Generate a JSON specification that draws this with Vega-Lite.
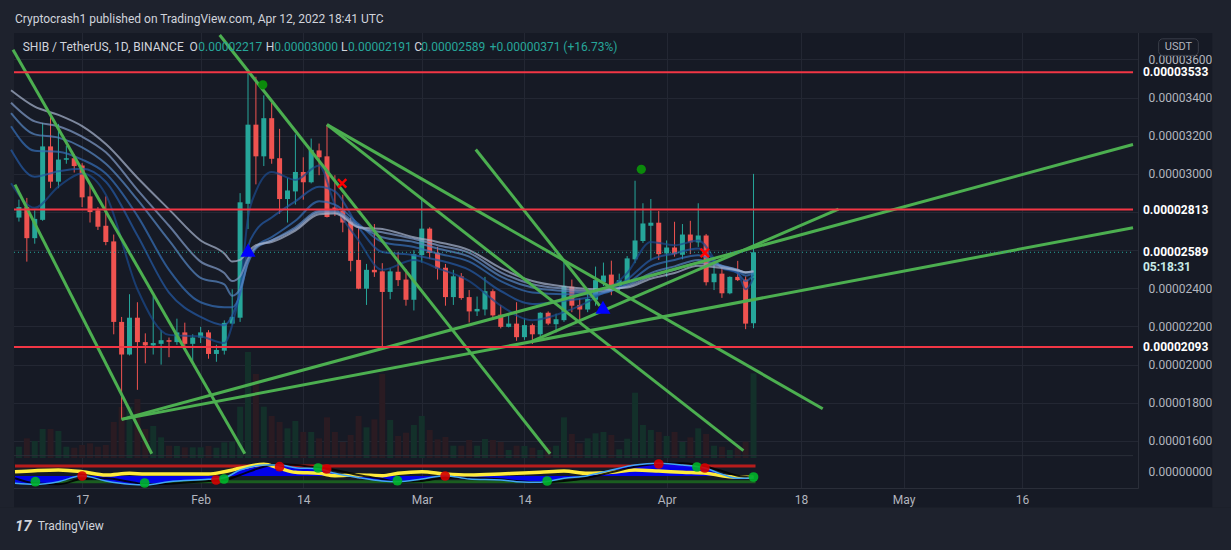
{
  "$schema": "https://vega.github.io/schema/vega-lite/v6.json",
  "width": 1129,
  "height": 460,
  "autosize": {"type": "none"},
  "padding": {"left": 9, "top": 28, "right": 93, "bottom": 62},
  "background": "#161a25",
  "config": {
    "view": {"fill": "#161a25", "stroke": null}
  },
  "datasets": {
    "candles": [
      {"d":"2022-01-09","o":0.00002771,"h":0.00002865,"l":0.0000275,"c":0.00002826,"v":11.3},
      {"d":"2022-01-10","o":0.00002826,"h":0.00002874,"l":0.0000254,"c":0.00002663,"v":19.7},
      {"d":"2022-01-11","o":0.00002663,"h":0.00002809,"l":0.00002634,"c":0.00002764,"v":17},
      {"d":"2022-01-12","o":0.00002759,"h":0.00003267,"l":0.00002754,"c":0.00003144,"v":29},
      {"d":"2022-01-13","o":0.00003144,"h":0.00003318,"l":0.00002925,"c":0.00002959,"v":29},
      {"d":"2022-01-14","o":0.00002959,"h":0.00003262,"l":0.00002925,"c":0.00003075,"v":27},
      {"d":"2022-01-15","o":0.00003074,"h":0.00003147,"l":0.00003053,"c":0.00003082,"v":11.3},
      {"d":"2022-01-16","o":0.00003082,"h":0.00003104,"l":0.00003007,"c":0.00003041,"v":10.3},
      {"d":"2022-01-17","o":0.00003044,"h":0.00003056,"l":0.00002826,"c":0.00002877,"v":13},
      {"d":"2022-01-18","o":0.00002882,"h":0.0000295,"l":0.00002745,"c":0.000028,"v":14.7},
      {"d":"2022-01-19","o":0.00002809,"h":0.00002826,"l":0.00002706,"c":0.00002723,"v":11.3},
      {"d":"2022-01-20","o":0.00002728,"h":0.00002882,"l":0.00002626,"c":0.00002643,"v":13},
      {"d":"2022-01-21","o":0.00002646,"h":0.00002682,"l":0.00002159,"c":0.00002224,"v":36},
      {"d":"2022-01-22","o":0.00002224,"h":0.0000225,"l":0.00001713,"c":0.00002053,"v":51},
      {"d":"2022-01-23","o":0.00002053,"h":0.00002369,"l":0.00002048,"c":0.00002246,"v":51.3},
      {"d":"2022-01-24","o":0.00002246,"h":0.00002327,"l":0.00001868,"c":0.00002118,"v":59},
      {"d":"2022-01-25","o":0.00002118,"h":0.00002164,"l":0.00002007,"c":0.00002101,"v":29},
      {"d":"2022-01-26","o":0.00002101,"h":0.00002361,"l":0.00002053,"c":0.00002113,"v":32},
      {"d":"2022-01-27","o":0.00002109,"h":0.00002181,"l":0.00002,"c":0.00002128,"v":20.7},
      {"d":"2022-01-28","o":0.00002128,"h":0.00002142,"l":0.00002039,"c":0.0000212,"v":12.3},
      {"d":"2022-01-29","o":0.00002118,"h":0.00002241,"l":0.00002104,"c":0.00002169,"v":12},
      {"d":"2022-01-30","o":0.00002169,"h":0.0000222,"l":0.00002087,"c":0.00002109,"v":10.7},
      {"d":"2022-01-31","o":0.00002109,"h":0.00002159,"l":0.0000201,"c":0.00002142,"v":10.7},
      {"d":"2022-02-01","o":0.00002142,"h":0.00002198,"l":0.00002113,"c":0.00002169,"v":10.7},
      {"d":"2022-02-02","o":0.00002169,"h":0.00002181,"l":0.00002031,"c":0.00002056,"v":12},
      {"d":"2022-02-03","o":0.00002056,"h":0.00002104,"l":0.00002015,"c":0.00002077,"v":10.3},
      {"d":"2022-02-04","o":0.00002073,"h":0.00002232,"l":0.00002053,"c":0.00002219,"v":15.7},
      {"d":"2022-02-05","o":0.00002215,"h":0.00002395,"l":0.0000221,"c":0.0000225,"v":16.3},
      {"d":"2022-02-06","o":0.00002246,"h":0.00002899,"l":0.00002224,"c":0.00002851,"v":51.3},
      {"d":"2022-02-07","o":0.00002843,"h":0.00003533,"l":0.00002711,"c":0.00003258,"v":106},
      {"d":"2022-02-08","o":0.00003258,"h":0.00003509,"l":0.00002945,"c":0.00003092,"v":84},
      {"d":"2022-02-09","o":0.00003092,"h":0.00003412,"l":0.00003041,"c":0.00003292,"v":51.3},
      {"d":"2022-02-10","o":0.00003292,"h":0.00003373,"l":0.00003053,"c":0.00003079,"v":42},
      {"d":"2022-02-11","o":0.00003082,"h":0.00003236,"l":0.00002791,"c":0.00002868,"v":36},
      {"d":"2022-02-12","o":0.00002868,"h":0.00002979,"l":0.00002745,"c":0.00002913,"v":29.7},
      {"d":"2022-02-13","o":0.00002908,"h":0.00003207,"l":0.00002839,"c":0.0000301,"v":37},
      {"d":"2022-02-14","o":0.0000301,"h":0.00003087,"l":0.00002865,"c":0.00002956,"v":26},
      {"d":"2022-02-15","o":0.00002956,"h":0.00003185,"l":0.0000295,"c":0.00003126,"v":26},
      {"d":"2022-02-16","o":0.00003123,"h":0.00003159,"l":0.00002993,"c":0.00003087,"v":19.7},
      {"d":"2022-02-17","o":0.00003092,"h":0.00003258,"l":0.00002771,"c":0.00002774,"v":40.7},
      {"d":"2022-02-18","o":0.00002824,"h":0.00002993,"l":0.00002779,"c":0.00002814,"v":26},
      {"d":"2022-02-19","o":0.00002808,"h":0.00002891,"l":0.00002694,"c":0.00002745,"v":16},
      {"d":"2022-02-20","o":0.00002749,"h":0.00002771,"l":0.00002489,"c":0.00002544,"v":23},
      {"d":"2022-02-21","o":0.00002549,"h":0.00002737,"l":0.00002395,"c":0.00002398,"v":42},
      {"d":"2022-02-22","o":0.00002398,"h":0.00002528,"l":0.00002313,"c":0.00002497,"v":30.7},
      {"d":"2022-02-23","o":0.00002497,"h":0.00002737,"l":0.0000246,"c":0.00002484,"v":38.7},
      {"d":"2022-02-24","o":0.00002489,"h":0.00002532,"l":0.0000208,"c":0.00002381,"v":84},
      {"d":"2022-02-25","o":0.00002381,"h":0.00002506,"l":0.00002343,"c":0.00002489,"v":38},
      {"d":"2022-02-26","o":0.00002487,"h":0.00002591,"l":0.00002412,"c":0.00002443,"v":22},
      {"d":"2022-02-27","o":0.00002446,"h":0.00002501,"l":0.00002309,"c":0.0000234,"v":25.3},
      {"d":"2022-02-28","o":0.0000234,"h":0.000026,"l":0.00002284,"c":0.00002579,"v":33},
      {"d":"2022-03-01","o":0.00002574,"h":0.00002865,"l":0.00002535,"c":0.00002713,"v":42},
      {"d":"2022-03-02","o":0.00002713,"h":0.0000272,"l":0.00002554,"c":0.00002586,"v":28},
      {"d":"2022-03-03","o":0.00002586,"h":0.00002617,"l":0.00002446,"c":0.00002504,"v":18.7},
      {"d":"2022-03-04","o":0.00002508,"h":0.00002528,"l":0.00002309,"c":0.00002354,"v":21},
      {"d":"2022-03-05","o":0.00002354,"h":0.00002497,"l":0.00002313,"c":0.00002463,"v":12.3},
      {"d":"2022-03-06","o":0.00002463,"h":0.0000248,"l":0.0000234,"c":0.00002349,"v":12.3},
      {"d":"2022-03-07","o":0.00002354,"h":0.00002391,"l":0.00002221,"c":0.00002279,"v":18},
      {"d":"2022-03-08","o":0.00002279,"h":0.00002357,"l":0.00002255,"c":0.00002292,"v":12.3},
      {"d":"2022-03-09","o":0.00002289,"h":0.0000246,"l":0.00002258,"c":0.00002385,"v":19},
      {"d":"2022-03-10","o":0.00002385,"h":0.00002395,"l":0.00002238,"c":0.00002258,"v":18},
      {"d":"2022-03-11","o":0.00002262,"h":0.00002313,"l":0.0000219,"c":0.00002198,"v":16},
      {"d":"2022-03-12","o":0.00002198,"h":0.00002267,"l":0.00002195,"c":0.00002215,"v":8},
      {"d":"2022-03-13","o":0.00002215,"h":0.00002327,"l":0.00002125,"c":0.00002144,"v":12.3},
      {"d":"2022-03-14","o":0.00002144,"h":0.00002244,"l":0.0000213,"c":0.00002207,"v":12},
      {"d":"2022-03-15","o":0.00002207,"h":0.00002215,"l":0.00002108,"c":0.00002159,"v":10.3},
      {"d":"2022-03-16","o":0.00002159,"h":0.00002275,"l":0.00002147,"c":0.00002272,"v":8},
      {"d":"2022-03-17","o":0.00002272,"h":0.00002279,"l":0.00002207,"c":0.00002215,"v":10.7},
      {"d":"2022-03-18","o":0.00002212,"h":0.00002267,"l":0.00002169,"c":0.00002238,"v":12.3},
      {"d":"2022-03-19","o":0.00002233,"h":0.00002552,"l":0.00002224,"c":0.00002412,"v":40.7},
      {"d":"2022-03-20","o":0.00002409,"h":0.00002446,"l":0.00002275,"c":0.00002309,"v":24},
      {"d":"2022-03-21","o":0.00002313,"h":0.00002347,"l":0.00002233,"c":0.00002289,"v":14.7},
      {"d":"2022-03-22","o":0.00002289,"h":0.00002395,"l":0.00002275,"c":0.00002344,"v":19.7},
      {"d":"2022-03-23","o":0.0000234,"h":0.00002514,"l":0.00002309,"c":0.00002443,"v":24.7},
      {"d":"2022-03-24","o":0.00002432,"h":0.00002535,"l":0.00002412,"c":0.00002467,"v":26},
      {"d":"2022-03-25","o":0.00002472,"h":0.00002545,"l":0.00002364,"c":0.00002412,"v":23},
      {"d":"2022-03-26","o":0.00002412,"h":0.00002477,"l":0.00002386,"c":0.00002443,"v":8.7},
      {"d":"2022-03-27","o":0.00002432,"h":0.00002569,"l":0.00002429,"c":0.00002557,"v":19.3},
      {"d":"2022-03-28","o":0.00002552,"h":0.00002964,"l":0.00002532,"c":0.00002651,"v":65.3},
      {"d":"2022-03-29","o":0.00002648,"h":0.00002846,"l":0.00002638,"c":0.0000274,"v":33},
      {"d":"2022-03-30","o":0.00002728,"h":0.00002868,"l":0.00002549,"c":0.00002744,"v":28},
      {"d":"2022-03-31","o":0.00002744,"h":0.00002805,"l":0.00002549,"c":0.00002579,"v":26},
      {"d":"2022-04-01","o":0.00002583,"h":0.00002651,"l":0.0000246,"c":0.00002614,"v":22},
      {"d":"2022-04-02","o":0.00002614,"h":0.00002749,"l":0.00002566,"c":0.00002579,"v":26},
      {"d":"2022-04-03","o":0.00002576,"h":0.00002737,"l":0.00002552,"c":0.00002682,"v":16},
      {"d":"2022-04-04","o":0.00002682,"h":0.00002754,"l":0.00002579,"c":0.00002641,"v":20.7},
      {"d":"2022-04-05","o":0.00002641,"h":0.00002846,"l":0.00002617,"c":0.00002677,"v":29.7},
      {"d":"2022-04-06","o":0.00002677,"h":0.00002685,"l":0.00002415,"c":0.00002432,"v":24},
      {"d":"2022-04-07","o":0.00002432,"h":0.00002523,"l":0.00002391,"c":0.00002477,"v":12.3},
      {"d":"2022-04-08","o":0.00002477,"h":0.00002514,"l":0.0000235,"c":0.00002374,"v":11.3},
      {"d":"2022-04-09","o":0.00002374,"h":0.00002463,"l":0.00002369,"c":0.0000246,"v":8},
      {"d":"2022-04-10","o":0.0000246,"h":0.00002544,"l":0.00002438,"c":0.00002443,"v":10.7},
      {"d":"2022-04-11","o":0.00002446,"h":0.00002463,"l":0.00002186,"c":0.00002215,"v":16.3},
      {"d":"2022-04-12","o":0.00002217,"h":0.00003,"l":0.00002191,"c":0.00002589,"v":84.7}
    ],
    "ema": [
      {"d":"2022-01-08","e1":0.00002951,"e2":0.00003127,"e3":0.0000325,"e4":0.00003318,"e5":0.00003373,"e6":0.00003438},
      {"d":"2022-01-11","e1":0.00002822,"e2":0.00002985,"e3":0.00003121,"e4":0.00003207,"e5":0.00003275,"e6":0.00003352},
      {"d":"2022-01-14","e1":0.00002933,"e2":0.00003014,"e3":0.00003116,"e4":0.0000319,"e5":0.0000325,"e6":0.00003309},
      {"d":"2022-01-17","e1":0.00003002,"e2":0.00003027,"e3":0.00003075,"e4":0.00003139,"e5":0.00003195,"e6":0.0000325},
      {"d":"2022-01-20","e1":0.00002891,"e2":0.00002959,"e3":0.00003002,"e4":0.00003053,"e5":0.00003113,"e6":0.00003156},
      {"d":"2022-01-24","e1":0.00002395,"e2":0.00002677,"e3":0.0000278,"e4":0.00002865,"e5":0.00002916,"e6":0.0000298},
      {"d":"2022-01-28","e1":0.00002156,"e2":0.00002378,"e3":0.00002497,"e4":0.00002651,"e5":0.00002728,"e6":0.00002814},
      {"d":"2022-02-01","e1":0.00002147,"e2":0.0000225,"e3":0.00002327,"e4":0.00002455,"e5":0.0000254,"e6":0.00002651},
      {"d":"2022-02-04","e1":0.00002113,"e2":0.00002207,"e3":0.00002301,"e4":0.00002421,"e5":0.0000248,"e6":0.00002583},
      {"d":"2022-02-05","e1":0.00002207,"e2":0.00002258,"e3":0.00002301,"e4":0.00002361,"e5":0.00002438,"e6":0.0000254},
      {"d":"2022-02-06","e1":0.00002395,"e2":0.00002378,"e3":0.00002369,"e4":0.00002395,"e5":0.00002463,"e6":0.00002549},
      {"d":"2022-02-07","e1":0.00002771,"e2":0.00002617,"e3":0.00002549,"e4":0.00002532,"e5":0.00002557,"e6":0.00002591},
      {"d":"2022-02-08","e1":0.00002908,"e2":0.00002703,"e3":0.00002617,"e4":0.00002609,"e5":0.00002617,"e6":0.00002626},
      {"d":"2022-02-10","e1":0.0000301,"e2":0.00002771,"e3":0.00002668,"e4":0.00002651,"e5":0.00002651,"e6":0.00002643},
      {"d":"2022-02-13","e1":0.00002968,"e2":0.00002856,"e3":0.00002754,"e4":0.0000272,"e5":0.00002711,"e6":0.00002703},
      {"d":"2022-02-16","e1":0.00003044,"e2":0.00002933,"e3":0.00002856,"e4":0.00002805,"e5":0.00002797,"e6":0.00002788},
      {"d":"2022-02-18","e1":0.00002839,"e2":0.00002908,"e3":0.00002839,"e4":0.00002805,"e5":0.00002797,"e6":0.00002792},
      {"d":"2022-02-21","e1":0.00002651,"e2":0.0000272,"e3":0.00002737,"e4":0.00002728,"e5":0.0000272,"e6":0.0000272},
      {"d":"2022-02-24","e1":0.00002497,"e2":0.00002591,"e3":0.00002643,"e4":0.00002668,"e5":0.00002694,"e6":0.00002711},
      {"d":"2022-02-28","e1":0.00002549,"e2":0.00002574,"e3":0.00002617,"e4":0.00002643,"e5":0.0000266,"e6":0.00002668},
      {"d":"2022-03-03","e1":0.00002506,"e2":0.00002549,"e3":0.00002583,"e4":0.00002609,"e5":0.00002626,"e6":0.00002643},
      {"d":"2022-03-07","e1":0.00002438,"e2":0.00002497,"e3":0.0000254,"e4":0.00002566,"e5":0.00002586,"e6":0.000026},
      {"d":"2022-03-11","e1":0.00002309,"e2":0.00002386,"e3":0.00002438,"e4":0.00002463,"e5":0.00002484,"e6":0.00002506},
      {"d":"2022-03-15","e1":0.00002233,"e2":0.00002318,"e3":0.00002378,"e4":0.00002404,"e5":0.00002421,"e6":0.00002438},
      {"d":"2022-03-19","e1":0.00002275,"e2":0.00002335,"e3":0.00002369,"e4":0.00002386,"e5":0.00002398,"e6":0.00002409},
      {"d":"2022-03-23","e1":0.00002352,"e2":0.00002361,"e3":0.00002369,"e4":0.00002378,"e5":0.00002386,"e6":0.00002395},
      {"d":"2022-03-27","e1":0.0000248,"e2":0.00002446,"e3":0.00002426,"e4":0.00002415,"e5":0.00002409,"e6":0.00002404},
      {"d":"2022-03-30","e1":0.00002643,"e2":0.00002549,"e3":0.00002515,"e4":0.0000248,"e5":0.00002463,"e6":0.0000245},
      {"d":"2022-04-02","e1":0.00002626,"e2":0.00002583,"e3":0.00002549,"e4":0.00002515,"e5":0.00002497,"e6":0.0000248},
      {"d":"2022-04-05","e1":0.00002651,"e2":0.00002609,"e3":0.00002574,"e4":0.00002549,"e5":0.00002532,"e6":0.00002518},
      {"d":"2022-04-08","e1":0.00002506,"e2":0.00002511,"e3":0.00002518,"e4":0.00002518,"e5":0.00002515,"e6":0.00002506},
      {"d":"2022-04-10","e1":0.0000248,"e2":0.0000248,"e3":0.00002489,"e4":0.00002497,"e5":0.00002497,"e6":0.00002494},
      {"d":"2022-04-11","e1":0.00002395,"e2":0.00002438,"e3":0.00002467,"e4":0.0000248,"e5":0.00002484,"e6":0.00002484},
      {"d":"2022-04-12","e1":0.00002455,"e2":0.00002472,"e3":0.0000248,"e4":0.00002487,"e5":0.00002489,"e6":0.00002489}
    ],
    "trendlines": [
      {"d":"2022-01-08T06:00:00Z","p":0.00003651,"d2":"2022-02-06T14:24:00Z","p2":0.00001533},
      {"d":"2022-01-08T12:00:00Z","p":0.00002944,"d2":"2022-01-25T19:30:00Z","p2":0.00001533},
      {"d":"2022-02-03T10:00:00Z","p":0.00003728,"d2":"2022-03-17T06:00:00Z","p2":0.00001533},
      {"d":"2022-02-17T00:00:00Z","p":0.00003258,"d2":"2022-04-10T17:15:00Z","p2":0.00001549},
      {"d":"2022-02-17T00:00:00Z","p":0.00003258,"d2":"2022-04-20T18:15:00Z","p2":0.00001769},
      {"d":"2022-03-07T20:00:00Z","p":0.00003128,"d2":"2022-03-23T12:45:00Z","p2":0.00002308},
      {"d":"2022-03-15T00:00:00Z","p":0.00002123,"d2":"2022-04-22T18:15:00Z","p2":0.00002815},
      {"d":"2022-01-22T00:00:00Z","p":0.00001713,"d2":"2022-05-30T01:00:00Z","p2":0.00003154},
      {"d":"2022-01-22T00:00:00Z","p":0.00001713,"d2":"2022-05-30T01:00:00Z","p2":0.00002718}
    ],
    "signals": [
      {"d":"2022-02-08T21:00:00Z","p":0.00003467,"k":"dot"},
      {"d":"2022-03-28T19:00:00Z","p":0.00003024,"k":"dot"},
      {"d":"2022-02-07","p":0.000026,"k":"tri"},
      {"d":"2022-03-23T22:30:00Z","p":0.00002301,"k":"tri"},
      {"d":"2022-02-18T22:00:00Z","p":0.0000295,"k":"x"},
      {"d":"2022-04-05T20:00:00Z","p":0.00002586,"k":"x"}
    ],
    "osc": [
      {"d":"2022-01-08T12:00:00Z","w1":-7.3,"w2":-2.3,"yl":4.3},
      {"d":"2022-01-11","w1":-8.3,"w2":-7.3,"yl":5.3},
      {"d":"2022-01-14","w1":-5.7,"w2":-8.3,"yl":6},
      {"d":"2022-01-17","w1":0.3,"w2":-3,"yl":4.3},
      {"d":"2022-01-20","w1":-5,"w2":-2.3,"yl":1},
      {"d":"2022-01-23","w1":-8.3,"w2":-5.7,"yl":2.7},
      {"d":"2022-01-25","w1":-9,"w2":-8.3,"yl":2},
      {"d":"2022-01-28","w1":-5.7,"w2":-7.7,"yl":2},
      {"d":"2022-02-02","w1":-3.3,"w2":-5,"yl":2},
      {"d":"2022-02-04","w1":-1.7,"w2":-4,"yl":4.3},
      {"d":"2022-02-06","w1":6,"w2":1,"yl":7.7},
      {"d":"2022-02-09","w1":11,"w2":9.3,"yl":11.7},
      {"d":"2022-02-11","w1":11,"w2":11.7,"yl":7.7},
      {"d":"2022-02-13","w1":8.3,"w2":11,"yl":3.7},
      {"d":"2022-02-16","w1":7,"w2":8.3,"yl":2.7},
      {"d":"2022-02-18","w1":2.7,"w2":6,"yl":0.3},
      {"d":"2022-02-21","w1":-1.7,"w2":1,"yl":1},
      {"d":"2022-02-24","w1":-5,"w2":-3,"yl":0.3},
      {"d":"2022-02-26","w1":-5.7,"w2":-5.7,"yl":2.7},
      {"d":"2022-03-01","w1":-3,"w2":-5,"yl":4.3},
      {"d":"2022-03-04","w1":0.3,"w2":-1.7,"yl":2},
      {"d":"2022-03-07","w1":-3,"w2":-1.7,"yl":1},
      {"d":"2022-03-11","w1":-4,"w2":-3.3,"yl":2},
      {"d":"2022-03-13","w1":-5.7,"w2":-5,"yl":2.7},
      {"d":"2022-03-16","w1":-6.3,"w2":-6.3,"yl":3.7},
      {"d":"2022-03-19","w1":-2.3,"w2":-5,"yl":5},
      {"d":"2022-03-22","w1":0.3,"w2":-1.7,"yl":2.7},
      {"d":"2022-03-25","w1":6,"w2":3.7,"yl":3.7},
      {"d":"2022-03-28","w1":11,"w2":9.3,"yl":6},
      {"d":"2022-03-31","w1":12.7,"w2":12.3,"yl":5},
      {"d":"2022-04-03","w1":11,"w2":12.7,"yl":3.7},
      {"d":"2022-04-06","w1":7.7,"w2":9.3,"yl":2.7},
      {"d":"2022-04-08","w1":1.7,"w2":5,"yl":0.3},
      {"d":"2022-04-10","w1":-2.3,"w2":0.3,"yl":-1.3},
      {"d":"2022-04-12","w1":-1.7,"w2":-1.7,"yl":-1.3}
    ],
    "oscdots": [
      {"d":"2022-01-11T02:00:00Z","v":-5.7,"k":"up"},
      {"d":"2022-01-17","v":0,"k":"down"},
      {"d":"2022-01-24T22:00:00Z","v":-7,"k":"up"},
      {"d":"2022-02-02T23:00:00Z","v":-4,"k":"down"},
      {"d":"2022-02-03T23:00:00Z","v":-3,"k":"up"},
      {"d":"2022-02-11","v":9.3,"k":"down"},
      {"d":"2022-02-15T21:00:00Z","v":8,"k":"up"},
      {"d":"2022-02-16T23:00:00Z","v":7,"k":"down"},
      {"d":"2022-02-25T22:00:00Z","v":-4.7,"k":"up"},
      {"d":"2022-03-03T23:00:00Z","v":0,"k":"down"},
      {"d":"2022-03-16T21:00:00Z","v":-5,"k":"up"},
      {"d":"2022-03-31","v":12,"k":"down"},
      {"d":"2022-04-04T20:00:00Z","v":9,"k":"up"},
      {"d":"2022-04-05T20:00:00Z","v":8,"k":"down"},
      {"d":"2022-04-12","v":-1,"k":"up"}
    ],
    "tags": [
      {"d":"2022-05-30T03:50:00Z","d2":"2022-06-09T01:40:00Z","p":0.00003533,"t":"0.00003533"},
      {"d":"2022-05-30T03:50:00Z","d2":"2022-06-09T01:40:00Z","p":0.00002813,"t":"0.00002813"},
      {"d":"2022-05-30T03:50:00Z","d2":"2022-06-09T01:40:00Z","p":0.00002093,"t":"0.00002093"}
    ],
    "lasttag": [
      {"d":"2022-05-30T03:50:00Z","d2":"2022-06-09T01:40:00Z","p":0.00002589,"t":"0.00002589","t2":"05:18:31"}
    ]
  },
  "encoding": {
    "x": {
      "field": "d",
      "type": "temporal",
      "scale": {
        "type": "utc",
        "nice": false,
        "domain": [
          {"year": 2022, "month": 1, "date": 8, "hours": 9, "utc": true},
          {"year": 2022, "month": 5, "date": 30, "hours": 1, "utc": true}
        ]
      },
      "axis": {
        "title": null,
        "values": [
          {"year": 2022, "month": 1, "date": 17, "utc": true},
          {"year": 2022, "month": 2, "date": 1, "utc": true},
          {"year": 2022, "month": 2, "date": 14, "utc": true},
          {"year": 2022, "month": 3, "date": 1, "utc": true},
          {"year": 2022, "month": 3, "date": 14, "utc": true},
          {"year": 2022, "month": 4, "date": 1, "utc": true},
          {"year": 2022, "month": 4, "date": 18, "utc": true},
          {"year": 2022, "month": 5, "date": 1, "utc": true},
          {"year": 2022, "month": 5, "date": 16, "utc": true}
        ],
        "labelExpr": "utcdate(datum.value) == 1 ? utcFormat(datum.value, '%b') : '' + utcdate(datum.value)",
        "labelFont": "Roboto",
        "labelFontSize": 12,
        "labelColor": "#b2b5be",
        "labelPadding": 6,
        "labelOverlap": false,
        "ticks": false,
        "domain": true,
        "domainColor": "#2a2e39",
        "grid": true,
        "gridColor": "#232733"
      }
    }
  },
  "resolve": {"scale": {"y": "independent"}},
  "layer": [
    {
      "data": {"name": "candles"},
      "mark": {"type": "bar", "size": 6},
      "encoding": {
        "y": {"field": "v", "type": "quantitative", "scale": {"domain": [-30, 430], "nice": false, "zero": false}, "axis": null},
        "y2": {"datum": 0},
        "color": {"condition": {"test": "datum.c >= datum.o", "value": "#13302a"}, "value": "#2a1b22"}
      }
    },
    {
      "layer": [
        {
          "data": {"values": [
            {"d":"2021-12-01","d2":"2022-07-01","p":0.000037385,"p2":0.00004},
            {"d":"2021-12-01","d2":"2022-07-01","p":0.000005,"p2":0.00001251},
            {"d":"2021-12-01","d2":"2022-01-08T09:00:00Z","p":0.00001251,"p2":0.000037385},
            {"d":"2022-06-09T01:40:00Z","d2":"2022-07-01","p":0.00001251,"p2":0.000037385}
          ]},
          "mark": {"type": "rect", "color": "#1e222d", "clip": false},
          "encoding": {
            "x2": {"field": "d2"},
            "y": {
              "field": "p",
              "type": "quantitative",
              "scale": {"domain": [0.000013795, 0.000037385], "nice": false, "zero": false},
              "axis": {
                "orient": "right",
                "title": null,
                "values": [0.000016, 0.000018, 0.00002, 0.000022, 0.000024, 0.000026, 0.000028, 0.00003, 0.000032, 0.000034, 0.000036, 0.00001441],
                "labelExpr": "datum.value < 0.000015 ? '0.00000000' : format(datum.value, '.8f')",
                "labelFont": "Roboto",
                "labelFontSize": 12,
                "labelColor": "#b2b5be",
                "labelOpacity": {"condition": {"test": "datum.value > 0.0000255 && datum.value < 0.0000285", "value": 0}, "value": 1},
                "labelPadding": 10,
                "labelOverlap": false,
                "labelFlush": false,
                "ticks": false,
                "domain": true,
                "domainColor": "#2a2e39",
                "grid": true,
                "gridColor": "#232733",
                "gridOpacity": {"condition": {"test": "datum.value < 0.000015", "value": 0}, "value": 1}
              }
            },
            "y2": {"field": "p2"}
          }
        },
        {
          "data": {"values": [{"d":"2022-01-08T09:00:00Z","d2":"2022-05-30T01:00:00Z","p":0.00001523}]},
          "mark": {"type": "rule", "color": "#2a2e39", "strokeWidth": 1},
          "encoding": {
            "x2": {"field": "d2"},
            "y": {"field": "p", "type": "quantitative", "scale": {"domain": [0.000013795, 0.000037385], "nice": false, "zero": false}}
          }
        },
        {
          "data": {"name": "candles"},
          "mark": {"type": "rule", "strokeWidth": 1},
          "encoding": {
            "y": {"field": "l", "type": "quantitative", "scale": {"domain": [0.000013795, 0.000037385], "nice": false, "zero": false}},
            "y2": {"field": "h"},
            "color": {"condition": {"test": "datum.c >= datum.o", "value": "#26a69a"}, "value": "#ef5350"}
          }
        },
        {
          "data": {"name": "candles"},
          "mark": {"type": "bar", "size": 5},
          "encoding": {
            "y": {"field": "o", "type": "quantitative", "scale": {"domain": [0.000013795, 0.000037385], "nice": false, "zero": false}},
            "y2": {"field": "c"},
            "color": {"condition": {"test": "datum.c >= datum.o", "value": "#26a69a"}, "value": "#ef5350"}
          }
        },
        {
          "data": {"name": "ema"},
          "transform": [{"fold": ["e1", "e2", "e3", "e4", "e5", "e6"], "as": ["k", "val"]}],
          "mark": {"type": "line", "strokeWidth": 2, "opacity": 0.72, "interpolate": "monotone", "clip": true},
          "encoding": {
            "y": {"field": "val", "type": "quantitative", "scale": {"domain": [0.000013795, 0.000037385], "nice": false, "zero": false}},
            "color": {
              "field": "k",
              "type": "nominal",
              "scale": {"domain": ["e1", "e2", "e3", "e4", "e5", "e6"], "range": ["#1b4a8c", "#2459a3", "#346db5", "#5685c0", "#7f9ac6", "#a6b3cc"]},
              "legend": null
            }
          }
        },
        {
          "data": {"name": "trendlines"},
          "mark": {"type": "rule", "color": "#4caf50", "strokeWidth": 3, "clip": true},
          "encoding": {
            "x2": {"field": "d2"},
            "y": {"field": "p", "type": "quantitative", "scale": {"domain": [0.000013795, 0.000037385], "nice": false, "zero": false}},
            "y2": {"field": "p2"}
          }
        },
        {
          "data": {"values": [
            {"d":"2022-01-08T09:00:00Z","d2":"2022-05-30T01:00:00Z","p":0.00003533},
            {"d":"2022-01-08T09:00:00Z","d2":"2022-05-30T01:00:00Z","p":0.00002813},
            {"d":"2022-01-08T09:00:00Z","d2":"2022-05-30T01:00:00Z","p":0.00002093}
          ]},
          "mark": {"type": "rule", "color": "#f23645", "strokeWidth": 2},
          "encoding": {
            "x2": {"field": "d2"},
            "y": {"field": "p", "type": "quantitative", "scale": {"domain": [0.000013795, 0.000037385], "nice": false, "zero": false}}
          }
        },
        {
          "data": {"values": [{"d":"2022-01-08T09:00:00Z","d2":"2022-05-30T01:00:00Z","p":0.00002589}]},
          "mark": {"type": "rule", "color": "#26a69a", "strokeWidth": 1, "strokeDash": [1, 3]},
          "encoding": {
            "x2": {"field": "d2"},
            "y": {"field": "p", "type": "quantitative", "scale": {"domain": [0.000013795, 0.000037385], "nice": false, "zero": false}}
          }
        },
        {
          "data": {"name": "signals"},
          "transform": [{"filter": "datum.k == 'dot'"}],
          "mark": {"type": "circle", "size": 85, "color": "#0b8a0b", "opacity": 1},
          "encoding": {
            "y": {"field": "p", "type": "quantitative", "scale": {"domain": [0.000013795, 0.000037385], "nice": false, "zero": false}}
          }
        },
        {
          "data": {"name": "signals"},
          "transform": [{"filter": "datum.k == 'tri'"}],
          "mark": {"type": "point", "shape": "triangle-up", "size": 230, "filled": true, "color": "#0000ff", "opacity": 1},
          "encoding": {
            "y": {"field": "p", "type": "quantitative", "scale": {"domain": [0.000013795, 0.000037385], "nice": false, "zero": false}}
          }
        },
        {
          "data": {"name": "signals"},
          "transform": [{"filter": "datum.k == 'x'"}],
          "mark": {"type": "point", "shape": "M-1,-1L1,1M-1,1L1,-1", "size": 70, "filled": false, "color": "#ff0000", "strokeWidth": 2.5, "opacity": 1},
          "encoding": {
            "y": {"field": "p", "type": "quantitative", "scale": {"domain": [0.000013795, 0.000037385], "nice": false, "zero": false}}
          }
        },
        {
          "data": {"name": "tags"},
          "mark": {"type": "bar", "size": 17, "color": "#f23645", "clip": false, "cornerRadius": 1},
          "encoding": {
            "x2": {"field": "d2"},
            "y": {"field": "p", "type": "quantitative", "scale": {"domain": [0.000013795, 0.000037385], "nice": false, "zero": false}}
          }
        },
        {
          "data": {"name": "lasttag"},
          "mark": {"type": "bar", "size": 31, "yOffset": 7.5, "color": "#26a69a", "clip": false, "cornerRadius": 1},
          "encoding": {
            "x2": {"field": "d2"},
            "y": {"field": "p", "type": "quantitative", "scale": {"domain": [0.000013795, 0.000037385], "nice": false, "zero": false}}
          }
        },
        {
          "data": {"name": "tags"},
          "mark": {"type": "text", "align": "left", "dx": 9, "font": "Roboto", "fontSize": 12, "fontWeight": "bold", "color": "#ffffff", "clip": false},
          "encoding": {
            "y": {"field": "p", "type": "quantitative", "scale": {"domain": [0.000013795, 0.000037385], "nice": false, "zero": false}},
            "text": {"field": "t"}
          }
        },
        {
          "data": {"name": "lasttag"},
          "mark": {"type": "text", "align": "left", "dx": 9, "font": "Roboto", "fontSize": 12, "fontWeight": "bold", "color": "#ffffff", "clip": false},
          "encoding": {
            "y": {"field": "p", "type": "quantitative", "scale": {"domain": [0.000013795, 0.000037385], "nice": false, "zero": false}},
            "text": {"field": "t"}
          }
        },
        {
          "data": {"name": "lasttag"},
          "mark": {"type": "text", "align": "left", "dx": 9, "dy": 15, "font": "Roboto", "fontSize": 12, "fontWeight": "bold", "color": "#c8ebe7", "clip": false},
          "encoding": {
            "y": {"field": "p", "type": "quantitative", "scale": {"domain": [0.000013795, 0.000037385], "nice": false, "zero": false}},
            "text": {"field": "t2"}
          }
        },
        {
          "data": {"values": [{"d":"2022-06-02T07:00:00Z","d2":"2022-06-07T07:30:00Z","p":0.00003708,"p2":0.00003621}]},
          "mark": {"type": "rect", "fill": "#161a25", "stroke": "#3a3e49", "strokeWidth": 1, "cornerRadius": 4, "clip": false},
          "encoding": {
            "x2": {"field": "d2"},
            "y": {"field": "p", "type": "quantitative", "scale": {"domain": [0.000013795, 0.000037385], "nice": false, "zero": false}},
            "y2": {"field": "p2"}
          }
        },
        {
          "data": {"values": [{"d":"2022-06-04T19:00:00Z","p":0.00003664,"t":"USDT"}]},
          "mark": {"type": "text", "align": "center", "font": "Roboto", "fontSize": 11, "color": "#b2b5be", "clip": false},
          "encoding": {
            "y": {"field": "p", "type": "quantitative", "scale": {"domain": [0.000013795, 0.000037385], "nice": false, "zero": false}},
            "text": {"field": "t"}
          }
        },
        {
          "data": {"values": [
            {"d":"2022-01-08T12:00:00Z","p":0.0000381,"t":"Cryptocrash1 published on TradingView.com, Apr 12, 2022 18:41 UTC","k":"head"},
            {"d":"2022-01-09T11:30:00Z","p":0.00003667,"t":"SHIB / TetherUS, 1D, BINANCE","k":"key"},
            {"d":"2022-01-30T14:00:00Z","p":0.00003667,"t":"O","k":"key"},
            {"d":"2022-01-31T17:00:00Z","p":0.00003667,"t":"0.00002217","k":"val"},
            {"d":"2022-02-09T05:45:00Z","p":0.00003667,"t":"H","k":"key"},
            {"d":"2022-02-10T07:30:00Z","p":0.00003667,"t":"0.00003000","k":"val"},
            {"d":"2022-02-18T18:45:00Z","p":0.00003667,"t":"L","k":"key"},
            {"d":"2022-02-19T15:50:00Z","p":0.00003667,"t":"0.00002191","k":"val"},
            {"d":"2022-02-28T01:30:00Z","p":0.00003667,"t":"C","k":"key"},
            {"d":"2022-02-28T22:30:00Z","p":0.00003667,"t":"0.00002589","k":"val"},
            {"d":"2022-03-09T14:25:00Z","p":0.00003667,"t":"+0.00000371 (+16.73%)","k":"val"},
            {"d":"2022-01-11T09:00:00Z","p":0.00001154,"t":"TradingView","k":"head"}
          ]},
          "mark": {"type": "text", "align": "left", "font": "Roboto", "fontSize": 12, "clip": false},
          "encoding": {
            "y": {"field": "p", "type": "quantitative", "scale": {"domain": [0.000013795, 0.000037385], "nice": false, "zero": false}},
            "text": {"field": "t"},
            "color": {"condition": {"test": "datum.k == 'val'", "value": "#26a69a"}, "value": "#d1d4dc"}
          }
        },
        {
          "data": {"values": [{"d":"2022-01-08T12:00:00Z","p":0.00001154,"t":"17"}]},
          "mark": {"type": "text", "align": "left", "font": "Roboto", "fontSize": 15, "fontWeight": "bold", "fontStyle": "italic", "color": "#d1d4dc", "clip": false},
          "encoding": {
            "y": {"field": "p", "type": "quantitative", "scale": {"domain": [0.000013795, 0.000037385], "nice": false, "zero": false}},
            "text": {"field": "t"}
          }
        }
      ]
    },
    {
      "layer": [
        {
          "data": {"values": [
            {"d":"2022-01-08T12:00:00Z","d2":"2022-04-12T06:00:00Z","v":10},
            {"d":"2022-01-08T12:00:00Z","d2":"2022-04-12T06:00:00Z","v":-5.7}
          ]},
          "mark": {"type": "rule", "strokeWidth": 3},
          "encoding": {
            "x2": {"field": "d2"},
            "y": {"field": "v", "type": "quantitative", "scale": {"domain": [-12, 448], "nice": false, "zero": false}, "axis": null},
            "color": {"condition": {"test": "datum.v > 0", "value": "#b71c1c"}, "value": "#1b5e20"}
          }
        },
        {
          "data": {"name": "osc"},
          "mark": {"type": "area", "color": "#0000ff", "opacity": 0.9, "interpolate": "monotone"},
          "encoding": {
            "y": {"field": "w1", "type": "quantitative", "scale": {"domain": [-12, 448], "nice": false, "zero": false}, "axis": null},
            "y2": {"datum": 0}
          }
        },
        {
          "data": {"name": "osc"},
          "mark": {"type": "line", "color": "#ffeb3b", "strokeWidth": 3.5, "interpolate": "monotone"},
          "encoding": {
            "y": {"field": "yl", "type": "quantitative", "scale": {"domain": [-12, 448], "nice": false, "zero": false}, "axis": null}
          }
        },
        {
          "data": {"name": "osc"},
          "mark": {"type": "line", "color": "#000000", "strokeWidth": 2, "opacity": 0.85, "interpolate": "monotone"},
          "encoding": {
            "y": {"field": "w2", "type": "quantitative", "scale": {"domain": [-12, 448], "nice": false, "zero": false}, "axis": null}
          }
        },
        {
          "data": {"name": "osc"},
          "mark": {"type": "line", "color": "#42a5f5", "strokeWidth": 1.5, "interpolate": "monotone"},
          "encoding": {
            "y": {"field": "w1", "type": "quantitative", "scale": {"domain": [-12, 448], "nice": false, "zero": false}, "axis": null}
          }
        },
        {
          "data": {"name": "oscdots"},
          "mark": {"type": "circle", "size": 95, "opacity": 0.9},
          "encoding": {
            "y": {"field": "v", "type": "quantitative", "scale": {"domain": [-12, 448], "nice": false, "zero": false}, "axis": null},
            "color": {"condition": {"test": "datum.k == 'up'", "value": "#00b52a"}, "value": "#d50000"}
          }
        }
      ]
    }
  ]
}
